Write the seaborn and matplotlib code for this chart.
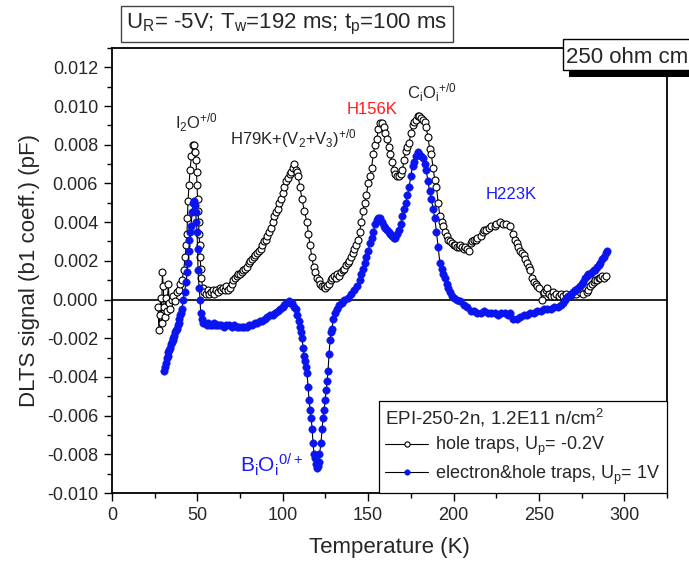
import matplotlib
matplotlib.use("Agg")
import matplotlib.pyplot as plt
import matplotlib.ticker as mticker
from matplotlib.patches import Rectangle
import numpy as np
import pandas as pd
import seaborn as sns

# ---- hole traps, Up = -0.2 V  (temperature in K, DLTS b1 signal in pF) ----
hole_T = [27.0, 27.5, 28.0, 28.5, 29.0, 29.5, 30.0, 30.5, 31.0, 31.5, 32.0, 33.0, 33.5, 34.0,
          35.0, 36.0, 37.0, 38.0, 39.0, 40.0, 41.0, 42.0, 42.8, 43.4, 43.9, 44.2, 44.5, 45.1,
          45.7, 46.5, 47.5, 48.3, 48.8, 49.2, 49.5, 49.8, 50.1, 50.4, 50.7, 51.0, 51.3, 51.6,
          52.0, 52.4, 53.0, 54.0, 55.0, 56.0, 57.0, 58.0, 59.0, 60.0, 61.0, 62.0, 63.0, 64.0,
          65.0, 66.0, 67.0, 68.0, 69.0, 70.0, 71.0, 72.0, 73.0, 74.0, 75.0, 76.0, 77.0, 78.0,
          79.0, 80.0, 81.0, 82.0, 83.0, 84.0, 85.0, 86.0, 87.0, 88.0, 89.0, 90.0, 91.0, 92.0,
          93.0, 94.0, 95.0, 96.0, 97.0, 98.0, 99.0, 100.0, 101.0, 102.0, 103.0, 104.0, 105.0,
          106.0, 106.6, 107.5, 108.3, 109.0, 110.0, 111.3, 112.5, 114.2, 115.0, 116.0, 117.0,
          118.0, 119.0, 120.0, 121.0, 122.0, 123.0, 124.0, 125.0, 126.0, 127.0, 128.0, 129.0,
          130.0, 131.0, 132.0, 133.0, 134.0, 135.0, 136.0, 137.0, 138.0, 139.0, 140.0, 141.0,
          142.0, 143.0, 144.0, 145.0, 146.0, 147.0, 148.0, 149.0, 150.0, 151.0, 152.0, 153.0,
          154.0, 155.0, 156.0, 157.0, 158.0, 159.0, 160.0, 161.0, 162.0, 163.0, 164.0, 165.0,
          166.0, 167.0, 168.0, 169.0, 170.0, 171.0, 172.0, 173.0, 174.0, 175.0, 176.0, 177.0,
          178.0, 179.0, 180.0, 181.0, 182.0, 183.0, 184.0, 185.0, 186.0, 187.0, 188.0, 189.0,
          190.0, 191.0, 192.0, 193.0, 194.0, 195.0, 196.0, 197.0, 198.0, 199.0, 200.0, 201.0,
          202.0, 203.0, 204.0, 205.0, 206.0, 207.0, 208.0, 209.0, 210.0, 211.0, 212.0, 213.0,
          214.0, 216.0, 217.0, 218.0, 219.0, 221.0, 222.0, 224.0, 225.0, 227.0, 229.0, 231.0,
          233.0, 235.0, 236.0, 237.0, 238.0, 239.0, 240.0, 241.0, 242.0, 243.0, 244.0, 245.0,
          246.0, 247.0, 248.0, 249.0, 250.0, 252.0, 253.0, 254.0, 255.0, 256.0, 257.0, 258.0,
          259.0, 260.0, 262.0, 263.0, 264.0, 266.0, 268.0, 270.0, 272.0, 274.0, 276.0, 278.0,
          279.0, 280.0, 281.0, 282.0, 283.0, 284.0, 285.0, 286.0, 287.0, 288.0, 289.0]
hole_S = [-0.0004, -0.0016, -0.0008, 0.0001, -0.0012, 0.0014, 0.0007, -0.0004, -0.0009, 0.0001,
          -0.0006, 0.0008, -0.0002, -0.0005, 0.0000, 0.0002, -0.0001, 0.0004, 0.0005, 0.0008,
          0.0010, 0.0015, 0.0022, 0.0028, 0.0034, 0.0042, 0.0051, 0.0059, 0.0067, 0.0074,
          0.0080, 0.0080, 0.0076, 0.0072, 0.0066, 0.0059, 0.0052, 0.0046, 0.0040, 0.0034,
          0.0028, 0.0022, 0.0016, 0.0011, 0.0006, 0.0004, 0.0003, 0.0005, 0.0003, 0.0004,
          0.0005, 0.0003, 0.0005, 0.0004, 0.0006, 0.0005, 0.0006, 0.0005, 0.0007, 0.0005,
          0.0006, 0.0008, 0.0010, 0.0011, 0.0012, 0.0013, 0.0013, 0.0014, 0.0015, 0.0016,
          0.0017, 0.0019, 0.0020, 0.0021, 0.0022, 0.0023, 0.0024, 0.0025, 0.0026, 0.0028,
          0.0030, 0.0031, 0.0033, 0.0035, 0.0037, 0.0040, 0.0043, 0.0045, 0.0047, 0.0050,
          0.0052, 0.0055, 0.0058, 0.0061, 0.0063, 0.0065, 0.0066, 0.0068, 0.0070, 0.0067,
          0.0066, 0.0064, 0.0058, 0.0052, 0.0046, 0.0040, 0.0034, 0.0028, 0.0022, 0.0017,
          0.0014, 0.0011, 0.0010, 0.0008, 0.0007, 0.0007, 0.0006, 0.0007, 0.0008, 0.0010,
          0.0011, 0.0012, 0.0011, 0.0013, 0.0012, 0.0014, 0.0015, 0.0016, 0.0018, 0.0019,
          0.0020, 0.0022, 0.0024, 0.0026, 0.0028, 0.0031, 0.0035, 0.0040, 0.0046, 0.0050,
          0.0054, 0.0060, 0.0064, 0.0068, 0.0075, 0.0080, 0.0083, 0.0088, 0.0091, 0.0091,
          0.0089, 0.0086, 0.0083, 0.0079, 0.0075, 0.0071, 0.0067, 0.0065, 0.0064, 0.0064,
          0.0065, 0.0067, 0.0072, 0.0077, 0.0079, 0.0081, 0.0086, 0.0090, 0.0092, 0.0093,
          0.0095, 0.0095, 0.0094, 0.0093, 0.0092, 0.0089, 0.0084, 0.0078, 0.0075, 0.0068,
          0.0062, 0.0058, 0.0050, 0.0043, 0.0040, 0.0038, 0.0035, 0.0033, 0.0031, 0.0030,
          0.0029, 0.0028, 0.0028, 0.0027, 0.0027, 0.0028, 0.0027, 0.0026, 0.0027, 0.0026,
          0.0025, 0.0029, 0.0030, 0.0031, 0.0031, 0.0032, 0.0033, 0.0035, 0.0036, 0.0036,
          0.0037, 0.0038, 0.0038, 0.0039, 0.0040, 0.0039, 0.0039, 0.0038, 0.0034, 0.0031,
          0.0029, 0.0027, 0.0025, 0.0024, 0.0023, 0.0021, 0.0019, 0.0017, 0.0015, 0.0011,
          0.0009, 0.0008, 0.0007, 0.0006, 0.0000, 0.0004, 0.0005, 0.0006, 0.0003, 0.0002,
          0.0004, 0.0002, 0.0003, 0.0002, 0.0003, 0.0002, 0.0003, 0.0002, 0.0003, 0.0003,
          0.0004, 0.0003, 0.0004, 0.0005, 0.0007, 0.0008, 0.0009, 0.0010, 0.0010, 0.0011,
          0.0011, 0.0012, 0.0011, 0.0012]

# ---- electron & hole traps, Up = 1 V ----
eh_T = [30.5, 31.0, 31.5, 32.0, 32.5, 33.0, 33.5, 34.0, 34.5, 35.0, 35.5, 36.0, 36.5, 37.0,
        37.5, 38.0, 38.5, 39.0, 39.5, 40.0, 40.5, 41.0, 41.6, 42.5, 43.4, 44.0, 44.5, 45.0,
        45.3, 45.8, 46.3, 46.9, 47.5, 48.3, 48.6, 49.0, 49.4, 49.8, 50.1, 50.4, 51.0, 51.6,
        51.9, 52.7, 53.5, 54.5, 55.5, 56.5, 57.5, 58.5, 59.5, 60.5, 61.5, 62.5, 64.0, 65.5,
        67.0, 68.5, 70.0, 71.5, 73.0, 74.5, 76.0, 77.5, 79.0, 80.5, 82.0, 83.5, 85.0, 86.5,
        88.0, 89.5, 91.0, 92.5, 94.0, 95.5, 97.0, 98.5, 100.0, 101.0, 102.0, 103.5, 104.5,
        105.5, 106.5, 107.5, 108.4, 109.3, 110.1, 110.7, 111.3, 111.9, 112.5, 113.0, 113.6,
        114.2, 114.8, 115.4, 116.0, 116.6, 117.2, 117.7, 118.3, 118.9, 119.5, 120.1, 120.5,
        121.0, 121.5, 122.4, 123.0, 123.6, 124.2, 124.8, 125.4, 126.0, 126.5, 127.1, 127.7,
        128.3, 128.9, 129.5, 130.5, 131.8, 133.0, 134.5, 136.0, 138.0, 140.0, 142.0, 143.5,
        145.0, 146.0, 147.0, 148.0, 149.0, 150.0, 151.0, 152.0, 153.0, 154.0, 155.0, 156.0,
        157.0, 158.0, 159.0, 160.0, 161.0, 162.0, 163.0, 164.0, 165.0, 166.0, 167.0, 168.0,
        169.0, 170.0, 171.0, 172.0, 173.0, 174.0, 175.0, 176.0, 177.0, 178.0, 179.0, 180.0,
        181.0, 182.0, 183.0, 184.0, 185.0, 186.0, 187.0, 188.0, 189.0, 190.0, 191.0, 192.0,
        193.0, 194.0, 195.0, 196.0, 197.0, 198.0, 199.0, 200.0, 202.0, 204.0, 206.0, 208.0,
        210.0, 212.0, 214.0, 216.0, 218.0, 220.0, 222.0, 224.0, 226.0, 228.0, 230.0, 232.0,
        233.0, 235.0, 237.0, 239.0, 241.0, 243.0, 245.0, 247.0, 249.0, 251.0, 253.0, 255.0,
        257.0, 259.0, 261.0, 263.0, 264.0, 265.0, 266.0, 267.0, 268.0, 269.0, 270.0, 271.0,
        272.0, 273.0, 274.0, 275.0, 276.0, 277.0, 278.0, 279.0, 280.0, 281.0, 282.0, 283.0,
        284.0, 285.0, 286.0, 287.0, 288.0, 289.0, 290.0]
eh_S = [-0.0037, -0.0035, -0.0033, -0.0030, -0.0029, -0.0027, -0.0026, -0.0025, -0.0023,
        -0.0022, -0.0021, -0.0020, -0.0019, -0.0017, -0.0016, -0.0015, -0.0013, -0.0012,
        -0.0010, -0.0008, -0.0007, -0.0005, 0.0000, 0.0004, 0.0009, 0.0014, 0.0019, 0.0025,
        0.0031, 0.0035, 0.0038, 0.0045, 0.0050, 0.0051, 0.0049, 0.0045, 0.0040, 0.0035,
        0.0026, 0.0015, 0.0006, 0.0000, -0.0007, -0.0010, -0.0012, -0.0012, -0.0013, -0.0012,
        -0.0013, -0.0013, -0.0012, -0.0013, -0.0013, -0.0013, -0.0013, -0.0014, -0.0013,
        -0.0013, -0.0014, -0.0013, -0.0014, -0.0014, -0.0014, -0.0014, -0.0014, -0.0013,
        -0.0013, -0.0012, -0.0012, -0.0011, -0.0011, -0.0010, -0.0009, -0.0008, -0.0008,
        -0.0007, -0.0006, -0.0005, -0.0004, -0.0003, -0.0002, -0.0001, -0.0002, -0.0002,
        -0.0004, -0.0005, -0.0008, -0.0011, -0.0014, -0.0017, -0.0020, -0.0025, -0.0029,
        -0.0032, -0.0035, -0.0038, -0.0045, -0.0052, -0.0057, -0.0061, -0.0067, -0.0074,
        -0.0080, -0.0082, -0.0085, -0.0087, -0.0086, -0.0084, -0.0080, -0.0074, -0.0067,
        -0.0061, -0.0057, -0.0052, -0.0047, -0.0042, -0.0037, -0.0028, -0.0021, -0.0017,
        -0.0015, -0.0010, -0.0007, -0.0005, -0.0003, -0.0002, 0.0000, 0.0001, 0.0003, 0.0005,
        0.0007, 0.0010, 0.0013, 0.0016, 0.0019, 0.0022, 0.0025, 0.0029, 0.0032, 0.0035,
        0.0039, 0.0041, 0.0042, 0.0042, 0.0040, 0.0038, 0.0037, 0.0036, 0.0035, 0.0034,
        0.0033, 0.0032, 0.0032, 0.0034, 0.0036, 0.0039, 0.0043, 0.0047, 0.0050, 0.0054,
        0.0058, 0.0064, 0.0069, 0.0071, 0.0074, 0.0076, 0.0075, 0.0074, 0.0073, 0.0070,
        0.0067, 0.0061, 0.0056, 0.0052, 0.0047, 0.0042, 0.0035, 0.0027, 0.0019, 0.0016,
        0.0013, 0.0011, 0.0008, 0.0006, 0.0004, 0.0002, 0.0001, 0.0000, -0.0001, -0.0003,
        -0.0004, -0.0006, -0.0006, -0.0007, -0.0007, -0.0006, -0.0007, -0.0007, -0.0007,
        -0.0008, -0.0007, -0.0007, -0.0008, -0.0007, -0.0010, -0.0010, -0.0009, -0.0008,
        -0.0008, -0.0007, -0.0007, -0.0006, -0.0006, -0.0005, -0.0005, -0.0005, -0.0004,
        -0.0004, -0.0003, -0.0002, 0.0000, 0.0001, 0.0002, 0.0002, 0.0003, 0.0004, 0.0005,
        0.0005, 0.0006, 0.0007, 0.0008, 0.0009, 0.0011, 0.0012, 0.0013, 0.0013, 0.0014,
        0.0015, 0.0015, 0.0017, 0.0018, 0.0019, 0.0021, 0.0022, 0.0024, 0.0025]

hole_label = "hole traps, U$_p$= -0.2V"
eh_label = "electron&hole traps, U$_p$= 1V"
legend_title = "EPI-250-2n, 1.2E11 n/cm$^2$"
header = "U$_R$= -5V; T$_w$=192 ms; t$_p$=100 ms"
sample_tag = "250 ohm cm"

sns.set_style("ticks")
plt.rcParams["font.family"] = ["Liberation Sans", "DejaVu Sans"]
plt.rcParams["mathtext.default"] = "regular"
plt.rcParams["axes.unicode_minus"] = False

W, H = 689, 565
fig = plt.figure(figsize=(W / 100, H / 100), dpi=100)
ax = fig.add_axes([112 / W, (H - 493) / H, (667 - 112) / W, (493 - 48) / H])

hole_df = pd.DataFrame({"T": hole_T, "S": hole_S})
eh_df = pd.DataFrame({"T": eh_T, "S": eh_S})

ax.axhline(0, color="black", lw=1.2, zorder=1)

sns.lineplot(data=hole_df, x="T", y="S", ax=ax, sort=False, estimator=None,
             color="black", lw=0.8, marker="o", markersize=5.0,
             markerfacecolor="white", markeredgecolor="black", markeredgewidth=0.8,
             label=hole_label, zorder=3)
sns.lineplot(data=eh_df, x="T", y="S", ax=ax, sort=False, estimator=None,
             color="black", lw=0.8, marker="o", markersize=5.4,
             markerfacecolor="#0a14f0", markeredgecolor="#0a14f0", markeredgewidth=0.3,
             label=eh_label, zorder=4)

ax.set_xlim(0, 325)
ax.set_ylim(-0.010, 0.013)
ax.xaxis.set_major_locator(mticker.MultipleLocator(50))
ax.xaxis.set_minor_locator(mticker.MultipleLocator(25))
ax.yaxis.set_major_locator(mticker.FixedLocator(np.arange(-0.010, 0.0121, 0.002)))
ax.yaxis.set_minor_locator(mticker.MultipleLocator(0.001))
ax.yaxis.set_major_formatter(mticker.FormatStrFormatter("%.3f"))
ax.tick_params(axis="both", which="major", direction="out", length=6, width=1,
               labelsize=13, pad=4, color="black")
ax.tick_params(axis="both", which="minor", direction="out", length=3.5, width=1, color="black")
ax.tick_params(top=False, right=False, which="both")
for sp in ax.spines.values():
    sp.set_visible(True)
    sp.set_color("black")
    sp.set_linewidth(1.3)

ax.set_xlabel("Temperature (K)", fontsize=16)
ax.set_ylabel("DLTS signal (b1 coeff.) (pF)", fontsize=16)
ax.xaxis.set_label_coords(0.5, -0.1)
ax.yaxis.set_label_coords(-0.13, 0.5)

# peak assignments
ax.text(37, 0.00885, "I$_2$O$^{+/0}$", fontsize=12, ha="left", va="baseline")
ax.text(69, 0.0080, "H79K+(V$_2$+V$_3$)$^{+/0}$", fontsize=12, ha="left", va="baseline")
ax.text(137.5, 0.0096, "H156K", fontsize=12, color="#ff1a1a", ha="left", va="baseline")
ax.text(172.5, 0.0104, "C$_i$O$_i$$^{+/0}$", fontsize=12, ha="left", va="baseline")
ax.text(218.5, 0.0052, "H223K", fontsize=12, color="#1a1aff", ha="left", va="baseline")
ax.text(75, -0.0089, "B$_i$O$_i$$^{0/+}$", fontsize=15, color="#1a1aff", ha="left", va="baseline")

leg = ax.legend(loc="lower right", bbox_to_anchor=(1.0, 0.0), borderaxespad=0,
                title=legend_title, fontsize=13, title_fontsize=13.5, frameon=True,
                fancybox=False, framealpha=1, edgecolor="black", handlelength=2.4,
                handletextpad=0.4, borderpad=0.35, labelspacing=0.3, markerscale=0.75)
leg.get_frame().set_linewidth(0.9)
leg._legend_box.align = "left"

# header box
fig.text(287 / W, 1 - 24 / H, header, fontsize=16, ha="center", va="center",
         bbox=dict(boxstyle="square,pad=0.25", facecolor="white", edgecolor="#444444", lw=1))

# resistivity tag with drop shadow, running off the right edge
fig.patches.append(Rectangle((569 / W, 1 - 77 / H), (720 - 569) / W, 30 / H,
                             transform=fig.transFigure, facecolor="black",
                             edgecolor="none", zorder=5))
fig.patches.append(Rectangle((563 / W, 1 - 70 / H), (720 - 563) / W, 31 / H,
                             transform=fig.transFigure, facecolor="white",
                             edgecolor="black", lw=1, zorder=6))
fig.text(566 / W, 1 - 63 / H, sample_tag, fontsize=16, ha="left", va="baseline", zorder=7)

fig.savefig("out.png", dpi=100)
